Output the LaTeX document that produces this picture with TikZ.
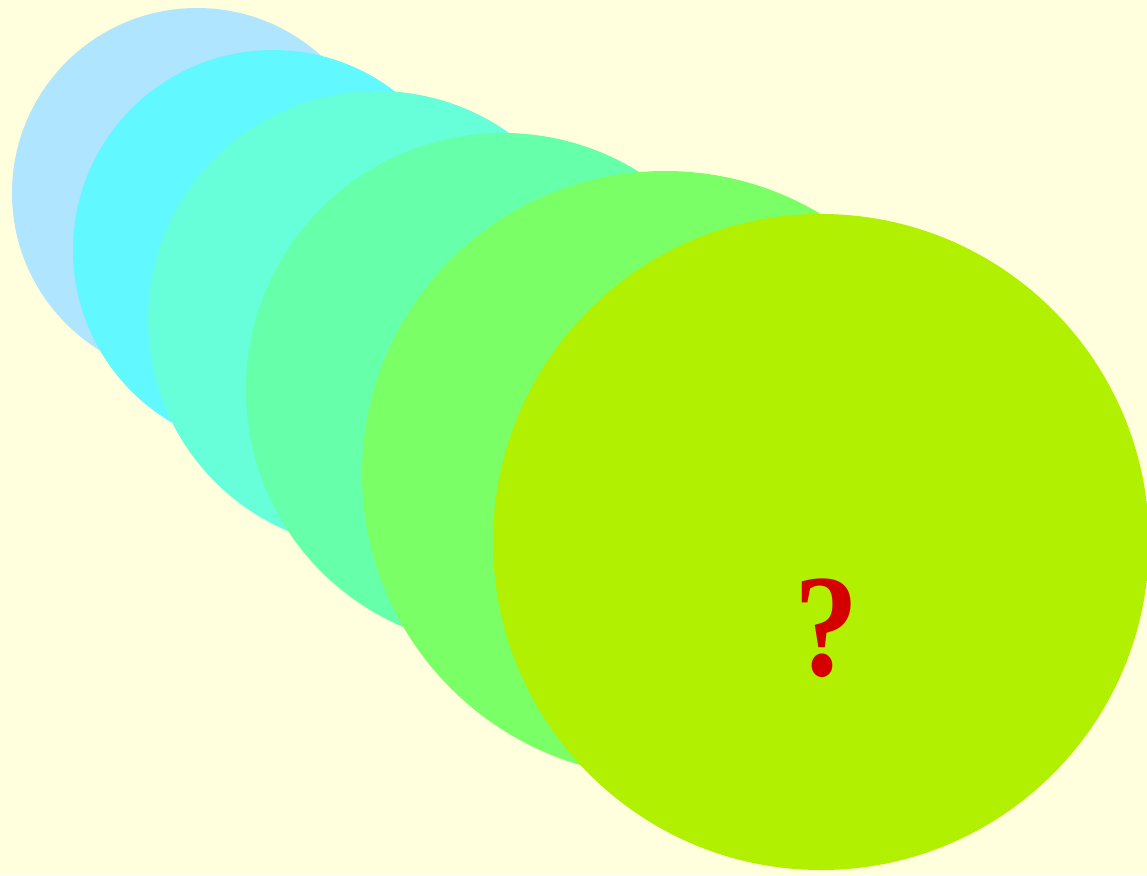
\documentclass[tikz,border=0pt]{standalone}
\usepackage{fontspec}
\newfontfamily\qfont{Liberation Serif}
\definecolor{bgc}{HTML}{FFFFDD}
\definecolor{cA}{HTML}{B0E5FF}
\definecolor{cB}{HTML}{62F8FF}
\definecolor{cC}{HTML}{66FFD9}
\definecolor{cD}{HTML}{66FFAA}
\definecolor{cE}{HTML}{7AFF66}
\definecolor{cF}{HTML}{B0F000}
\definecolor{qred}{HTML}{D40000}
\tikzset{disc/.style={circle, inner sep=0pt, draw=none}}
\begin{document}
\begin{tikzpicture}[x=1pt,y=-1pt]
\fill[bgc] (0,0) rectangle (1147,875);
\useasboundingbox (0,0) rectangle (1147,875);
\begin{scope}
\clip (0,0) rectangle (1147,875);
\node[disc, fill=cA, minimum size=370pt] (c1) at (197,193) {};
\node[disc, fill=cB, minimum size=400pt] (c2) at (273,250) {};
\node[disc, fill=cC, minimum size=458pt] (c3) at (377,320) {};
\node[disc, fill=cD, minimum size=514pt] (c4) at (503,390) {};
\node[disc, fill=cE, minimum size=606pt] (c5) at (665,474) {};
\node[disc, fill=cF, minimum size=656pt] (c6) at (821,542) {};
\node[inner sep=0pt, text=qred, font=\qfont\bfseries\fontsize{146}{150}\selectfont, xscale=0.88] (q) at (827,628) {?};
\end{scope}
\end{tikzpicture}
\end{document}
